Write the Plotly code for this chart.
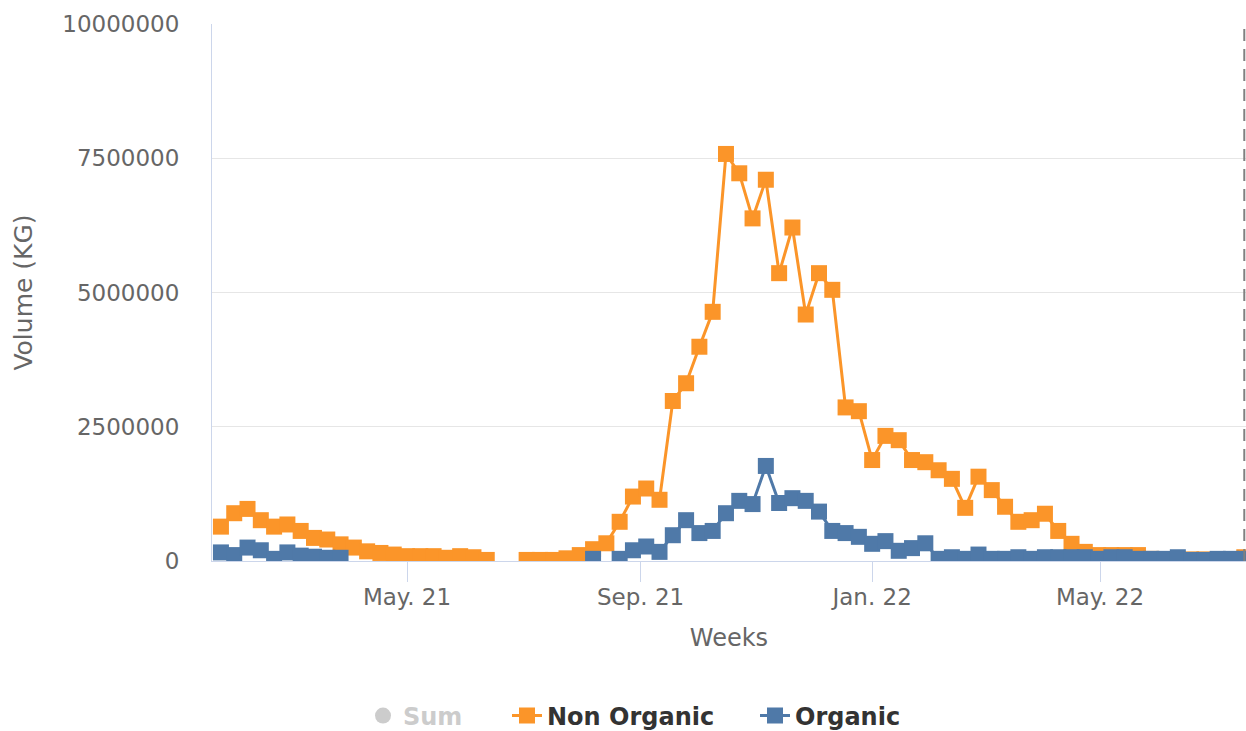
import pandas as pd
import plotly.graph_objects as go

# ---- data -------------------------------------------------------------
week_start = "2021-01-23"
n_weeks = 78
weeks = pd.date_range(week_start, periods=n_weeks, freq="7D")

non_organic = [
    640000, 890000, 970000, 760000, 640000, 680000, 560000, 430000, 400000, 310000,
    250000, 180000, 150000, 120000, 90000, 90000, 90000, 60000, 90000, 70000,
    20000, None, None, 20000, 20000, 20000, 50000, 110000, 220000, 330000,
    730000, 1200000, 1350000, 1140000, 2980000, 3310000, 3990000, 4640000, 7580000, 7220000,
    6380000, 7100000, 5360000, 6210000, 4590000, 5360000, 5050000, 2860000, 2790000, 1880000,
    2330000, 2250000, 1880000, 1840000, 1690000, 1530000, 990000, 1570000, 1320000, 1010000,
    730000, 760000, 880000, 560000, 320000, 170000, 110000, 110000, 110000, 110000,
    40000, 30000, 30000, 30000, 30000, 30000, 30000, 70000,
]

organic = [
    160000, 110000, 250000, 200000, 40000, 160000, 100000, 80000, 60000, 60000,
    None, None, None, None, None, None, None, None, None, None,
    None, None, None, None, None, None, None, None, 40000, None,
    40000, 200000, 270000, 170000, 480000, 760000, 520000, 560000, 890000, 1120000,
    1060000, 1770000, 1080000, 1170000, 1120000, 920000, 560000, 520000, 450000, 320000,
    370000, 190000, 240000, 330000, 40000, 70000, 40000, 120000, 40000, 40000,
    70000, 40000, 70000, 70000, 70000, 70000, 40000, 70000, 70000, 40000,
    40000, 40000, 70000, 20000, 20000, 40000, 40000, 40000,
]

sum_series = [
    None if (a is None and b is None) else (a or 0) + (b or 0)
    for a, b in zip(non_organic, organic)
]

x_tick_vals = ["2021-05-01", "2021-09-01", "2022-01-01", "2022-05-01"]
x_tick_text = ["May. 21", "Sep. 21", "Jan. 22", "May. 22"]
y_tick_vals = [0, 2500000, 5000000, 7500000, 10000000]
marker_line_date = weeks[-1]

# ---- styling ----------------------------------------------------------
ORANGE = "#fb9529"
BLUE = "#4f79a8"
FONT = "DejaVu Sans"

fig = go.Figure()

fig.add_trace(go.Scatter(
    x=weeks, y=sum_series, name="Sum", mode="markers",
    marker=dict(symbol="circle", size=22, color="#999999"),
    visible="legendonly", legend="legend3",
))
fig.add_trace(go.Scatter(
    x=weeks, y=non_organic, name="Non Organic", mode="lines+markers",
    line=dict(color=ORANGE, width=3),
    marker=dict(symbol="square", size=16, color=ORANGE),
    connectgaps=False, legend="legend",
))
fig.add_trace(go.Scatter(
    x=weeks, y=organic, name="Organic", mode="lines+markers",
    line=dict(color=BLUE, width=3),
    marker=dict(symbol="square", size=16, color=BLUE),
    connectgaps=False, legend="legend2",
))

fig.add_shape(
    type="line", xref="x", yref="paper",
    x0=marker_line_date, x1=marker_line_date, y0=0, y1=1,
    line=dict(color="#808080", width=2, dash="12px,8px"),
)

W, H = 1246, 731
L, T, B, R = 212, 24, 170, 0


def cx(xp):
    return xp / W


def cy(yp):
    return (H - yp) / H


legend_font = dict(family=FONT, size=24, color="#333333", weight="bold")
common = dict(xref="container", yref="container", xanchor="left", yanchor="middle",
              orientation="h", bgcolor="rgba(0,0,0,0)")

fig.update_layout(
    width=W, height=H,
    margin=dict(l=L, r=R, t=T, b=B, pad=0),
    paper_bgcolor="white", plot_bgcolor="white",
    font=dict(family=FONT, color="#666666"),
    showlegend=True,
    legend=dict(x=cx(507), y=cy(716), font=legend_font, **common),
    legend2=dict(x=cx(755), y=cy(716), font=legend_font, **common),
    legend3=dict(x=cx(363), y=cy(716),
                 font=dict(family=FONT, size=24, color="#999999", weight="bold"),
                 **common),
    xaxis=dict(
        type="date",
        range=["2021-01-18 07:00", "2022-07-16 21:36"],
        tickvals=x_tick_vals, ticktext=x_tick_text,
        ticks="outside", ticklen=20, tickwidth=1, tickcolor="#ccd6eb",
        ticklabelstandoff=-5,
        tickfont=dict(family=FONT, size=23, color="#666666"),
        showline=True, linecolor="#ccd6eb", linewidth=1,
        showgrid=False, zeroline=False,
        title=dict(text="Weeks", font=dict(family=FONT, size=24, color="#666666"),
                   standoff=20),
    ),
    yaxis=dict(
        range=[0, 10000000],
        tickvals=y_tick_vals, tickformat="d",
        ticks="", ticklabelstandoff=27,
        tickfont=dict(family=FONT, size=23, color="#666666"),
        showline=True, linecolor="#ccd6eb", linewidth=1,
        showgrid=True, gridcolor="#e6e6e6", gridwidth=1,
        zeroline=False,
        title=dict(text="Volume (KG)", font=dict(family=FONT, size=25, color="#666666"),
                   standoff=22),
    ),
)

fig.write_html(
    "out.html",
    config={"displayModeBar": False},
    post_script="document.body.style.margin='0';document.body.style.overflow='hidden';",
)
